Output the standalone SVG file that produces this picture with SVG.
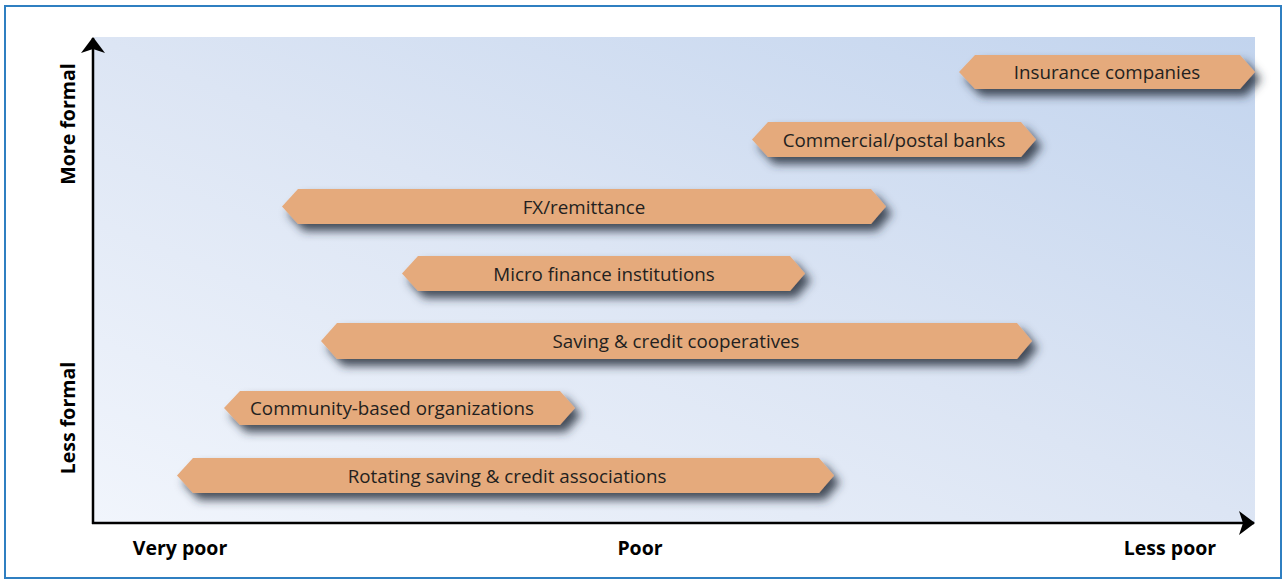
<svg xmlns="http://www.w3.org/2000/svg" width="1287" height="584" viewBox="0 0 1287 584">
  <defs>
    <linearGradient id="bg" x1="0" y1="1" x2="1" y2="0">
      <stop offset="0" stop-color="#f1f5fc"/>
      <stop offset="0.5" stop-color="#dce5f4"/>
      <stop offset="1" stop-color="#c2d4ee"/>
    </linearGradient>
    <filter id="shadow" x="-10%" y="-50%" width="125%" height="220%">
      <feGaussianBlur in="SourceAlpha" stdDeviation="5"/>
      <feOffset dx="6" dy="7" result="b"/>
      <feFlood flood-color="#27303d" flood-opacity="0.85"/>
      <feComposite in2="b" operator="in"/>
      <feMerge>
        <feMergeNode/>
        <feMergeNode in="SourceGraphic"/>
      </feMerge>
    </filter>
    <marker id="arr" viewBox="0 0 16 24" refX="15" refY="12" markerWidth="16" markerHeight="24" markerUnits="userSpaceOnUse" orient="auto">
      <path d="M0,0 L16,12 L0,24 L4,12 Z" fill="#000"/>
    </marker>
  </defs>
  <style>
    .band { fill: #e5aa7c; filter: url(#shadow); }
    .lbl { font-family: "Open Sans", "Liberation Sans", sans-serif; font-size: 18.8px; fill: #231f20; text-anchor: middle; dominant-baseline: central; }
    .ax { font-family: "Open Sans", "Liberation Sans", sans-serif; font-size: 19.5px; font-weight: bold; fill: #000; text-anchor: middle; dominant-baseline: central; }
    .axis { stroke: #000; stroke-width: 2.5; fill: none; }
  </style>
  <rect x="5" y="6" width="1276" height="572" fill="#fff" stroke="#2f7fc1" stroke-width="2"/>
  <rect x="94" y="37" width="1161" height="486" fill="url(#bg)"/>

  <g id="connectors">
    <line class="axis" x1="93" y1="524" x2="93" y2="38" marker-end="url(#arr)"/>
    <line class="axis" x1="92" y1="523" x2="1254" y2="523" marker-end="url(#arr)"/>
  </g>

  <g id="insurance">
    <polygon class="band" points="959,72 975,55 1240,55 1255,72 1240,89 975,89"/>
    <text class="lbl" x="1107" y="72">Insurance companies</text>
  </g>
  <g id="commercial">
    <polygon class="band" points="752,139.5 768,122 1021,122 1036,139.5 1021,157 768,157"/>
    <text class="lbl" x="894" y="139.5">Commercial/postal banks</text>
  </g>
  <g id="fx">
    <polygon class="band" points="282,206.5 298,189 871,189 886,206.5 871,224 298,224"/>
    <text class="lbl" x="584" y="206.5">FX/remittance</text>
  </g>
  <g id="microfinance">
    <polygon class="band" points="402,273.5 418,256 790,256 805,273.5 790,291 418,291"/>
    <text class="lbl" x="604" y="273.5">Micro finance institutions</text>
  </g>
  <g id="saving">
    <polygon class="band" points="321,341 337,323 1017,323 1032,341 1017,359 337,359"/>
    <text class="lbl" x="676" y="341">Saving &amp; credit cooperatives</text>
  </g>
  <g id="community">
    <polygon class="band" points="224,408 240,391 560,391 575,408 560,425 240,425"/>
    <text class="lbl" x="392" y="408">Community-based organizations</text>
  </g>
  <g id="rotating">
    <polygon class="band" points="177,475.5 193,458 819,458 834,475.5 819,493 193,493"/>
    <text class="lbl" x="507" y="475.5">Rotating saving &amp; credit associations</text>
  </g>

  <g id="axis-labels">
    <text class="ax" x="180" y="547">Very poor</text>
    <text class="ax" x="640" y="547">Poor</text>
    <text class="ax" x="1170" y="547">Less poor</text>
    <text class="ax" transform="translate(67,124) rotate(-90)">More formal</text>
    <text class="ax" transform="translate(67,418) rotate(-90)">Less formal</text>
  </g>
</svg>
